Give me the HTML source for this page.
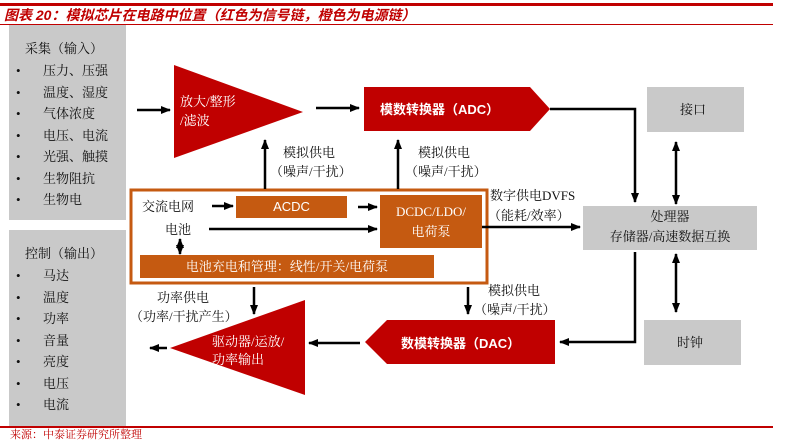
<!DOCTYPE html>
<html><head><meta charset="utf-8"><style>
*{margin:0;padding:0;box-sizing:border-box}
body{width:786px;height:445px;background:#fff;position:relative;overflow:hidden;font-family:"Liberation Serif","Noto Serif CJK SC","Noto Sans CJK SC",serif;color:#111}
.a{position:absolute;white-space:nowrap}
.g{position:absolute;background:#c9c9c9}
.t{font-size:13px;line-height:21.5px}
.w{color:#fff}
.o{position:absolute;background:#c55a11;color:#fff;display:flex;align-items:center;justify-content:center;text-align:center;font-size:13px;line-height:20px}
</style></head><body>
<div class="a" style="left:0;top:3px;width:773px;height:3px;background:#c00000"></div>
<div class="a" style="left:4px;top:6px;font-size:14px;font-weight:bold;font-style:italic;color:#c00000;font-family:'Liberation Sans','Noto Sans CJK SC',sans-serif;line-height:19px">图表 20：模拟芯片在电路中位置（红色为信号链，橙色为电源链）</div>
<div class="a" style="left:0;top:24px;width:773px;height:1px;background:#c00000"></div>

<div class="g" style="left:9px;top:25px;width:117px;height:195px"></div>
<div class="a t" style="left:25px;top:38px">采集（输入）</div>
<div class="a t" style="left:16px;top:60px;line-height:21.5px">•<br>•<br>•<br>•<br>•<br>•<br>•</div>
<div class="a t" style="left:43px;top:60px">压力、压强<br>温度、湿度<br>气体浓度<br>电压、电流<br>光强、触摸<br>生物阻抗<br>生物电</div>

<div class="g" style="left:9px;top:230px;width:117px;height:197px"></div>
<div class="a t" style="left:25px;top:243px">控制（输出）</div>
<div class="a t" style="left:16px;top:265px">•<br>•<br>•<br>•<br>•<br>•<br>•</div>
<div class="a t" style="left:43px;top:265px">马达<br>温度<br>功率<br>音量<br>亮度<br>电压<br>电流</div>

<div class="a" style="left:0;top:426px;width:773px;height:2px;background:#c00000"></div>
<div class="a" style="left:10px;top:428px;font-size:11px;color:#c00000;line-height:14px">来源：中泰证券研究所整理</div>

<svg class="a" style="left:0;top:0" width="786" height="445">
<defs><marker id="m" markerWidth="6" markerHeight="6" refX="5" refY="3" orient="auto-start-reverse" markerUnits="userSpaceOnUse"><path d="M0,0L6,3L0,6z" fill="#000"/></marker>
<marker id="m2" markerWidth="10" markerHeight="8" refX="9" refY="4" orient="auto-start-reverse" markerUnits="userSpaceOnUse"><path d="M0,0L10,4L0,8z" fill="#000"/></marker></defs>
<polygon points="174,65 303,112 174,158" fill="#c00000"/>
<polygon points="364,87 530,87 550,109 530,131 364,131" fill="#c00000"/>
<polygon points="365,342 387,320 555,320 555,364 387,364" fill="#c00000"/>
<polygon points="170,348 305,300 305,395" fill="#c00000"/>
<rect x="647" y="87" width="97" height="45" fill="#c9c9c9"/>
<rect x="583" y="206" width="174" height="44" fill="#c9c9c9"/>
<rect x="644" y="320" width="97" height="45" fill="#c9c9c9"/>
<rect x="131" y="190" width="356" height="93" fill="none" stroke="#c55a11" stroke-width="3"/>
<g stroke="#000" stroke-width="2.5" fill="none">
<line x1="137" y1="110" x2="170" y2="110" marker-end="url(#m2)"/>
<line x1="316" y1="108" x2="359" y2="108" marker-end="url(#m2)"/>
<polyline points="550,109 635,109 635,202" marker-end="url(#m2)"/>
<line x1="676" y1="142" x2="676" y2="204" marker-start="url(#m2)" marker-end="url(#m2)"/>
<line x1="676" y1="254" x2="676" y2="312" marker-start="url(#m2)" marker-end="url(#m2)"/>
<polyline points="635,252 635,342 560,342" marker-end="url(#m2)"/>
<line x1="265" y1="189" x2="265" y2="140" marker-end="url(#m2)"/>
<line x1="398" y1="189" x2="398" y2="140" marker-end="url(#m2)"/>
<line x1="482" y1="227" x2="580" y2="227" marker-end="url(#m2)"/>
<line x1="212" y1="206" x2="233" y2="206" marker-end="url(#m2)"/>
<line x1="358" y1="207" x2="377" y2="207" marker-end="url(#m2)"/>
<line x1="209" y1="229" x2="377" y2="229" marker-end="url(#m2)"/>
<line x1="180" y1="239" x2="180" y2="254" marker-start="url(#m2)" marker-end="url(#m2)"/>
<line x1="254" y1="287" x2="254" y2="314" marker-end="url(#m2)"/>
<line x1="468" y1="287" x2="468" y2="314" marker-end="url(#m2)"/>
<line x1="360" y1="343" x2="309" y2="343" marker-end="url(#m2)"/>
<line x1="167" y1="348" x2="150" y2="348" marker-end="url(#m2)"/>
</g>
</svg>

<div class="a w" style="left:180px;top:92px;font-size:13px;line-height:19px">放大/整形<br>/滤波</div>
<div class="a w" style="left:380px;top:99px;font-size:13px;font-weight:bold;font-family:'Liberation Sans','Noto Sans CJK SC',sans-serif">模数转换器（ADC）</div>
<div class="a w" style="left:401px;top:333px;font-size:13px;font-weight:bold;font-family:'Liberation Sans','Noto Sans CJK SC',sans-serif">数模转换器（DAC）</div>
<div class="a w" style="left:212px;top:333px;font-size:13px;line-height:18px">驱动器/运放/<br>功率输出</div>

<div class="a t" style="left:680px;top:99px">接口</div>
<div class="a t" style="left:677px;top:332px">时钟</div>
<div class="a t" style="left:583px;top:207px;width:174px;text-align:center;line-height:20px">处理器<br>存储器/高速数据互换</div>

<div class="a t" style="left:283px;top:143px;line-height:19px">模拟供电</div>
<div class="a t" style="left:270px;top:162px;line-height:19px">（噪声/干扰）</div>
<div class="a t" style="left:418px;top:143px;line-height:19px">模拟供电</div>
<div class="a t" style="left:405px;top:162px;line-height:19px">（噪声/干扰）</div>
<div class="a t" style="left:490px;top:186px;line-height:20px">数字供电DVFS</div>
<div class="a t" style="left:488px;top:206px;line-height:20px">（能耗/效率）</div>
<div class="a t" style="left:157px;top:288px;line-height:19px">功率供电</div>
<div class="a t" style="left:130px;top:307px;line-height:19px">（功率/干扰产生）</div>
<div class="a t" style="left:488px;top:281px;line-height:19px">模拟供电</div>
<div class="a t" style="left:474px;top:300px;line-height:19px">（噪声/干扰）</div>

<div class="a t" style="left:142px;top:196px">交流电网</div>
<div class="a t" style="left:165px;top:219px">电池</div>
<div class="o" style="left:236px;top:196px;width:111px;height:22px;font-family:'Liberation Sans',sans-serif">ACDC</div>
<div class="o" style="left:380px;top:195px;width:102px;height:53px">DCDC/LDO/<br>电荷泵</div>
<div class="o" style="left:140px;top:255px;width:294px;height:23px">电池充电和管理：线性/开关/电荷泵</div>
</body></html>
